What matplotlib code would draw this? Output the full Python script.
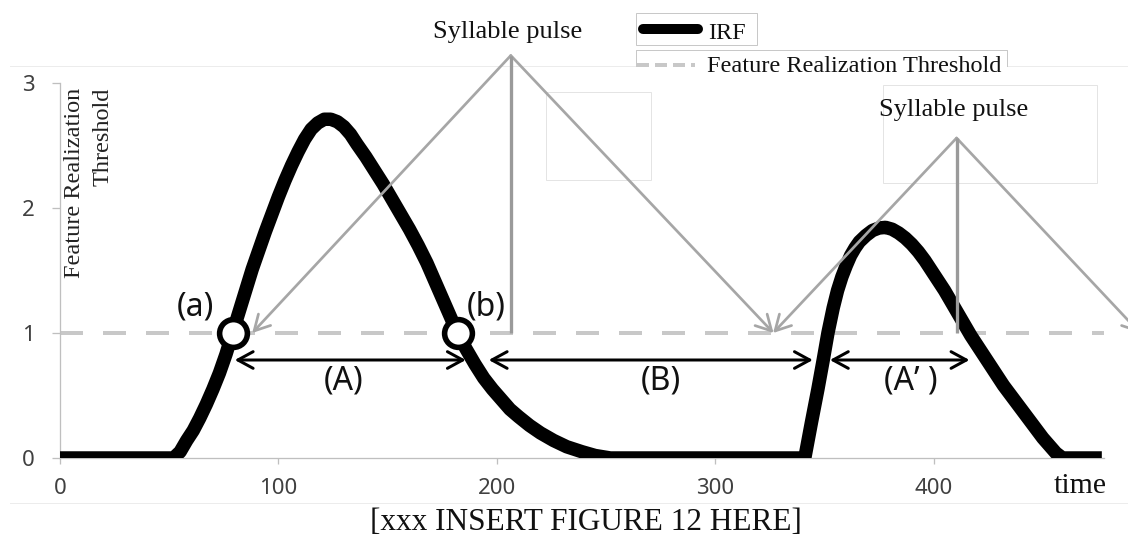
import matplotlib
matplotlib.use("Agg")
import matplotlib.pyplot as plt
from matplotlib.lines import Line2D
from matplotlib.patches import Rectangle

# ---------------- data ----------------
irf_time = [0, 52, 55, 58, 61, 64, 67, 70, 73, 76, 79, 82, 85, 88, 91, 94, 97, 100,
            103, 106, 109, 112, 115, 118, 121, 124, 127, 130, 133, 136, 140, 144,
            148, 152, 156, 160, 164, 168, 172, 176, 179, 182, 186, 190, 194, 198,
            202, 206, 210, 215, 220, 226, 232, 239, 245, 252,
            341, 344, 347, 349.5, 351.6, 354, 356, 358, 360, 362, 364, 366, 369,
            372, 375, 378, 381, 384, 387, 390, 393, 396, 399, 402, 405, 408, 411,
            414, 417, 420, 423, 426, 429, 432, 435, 438, 441, 444, 447, 450, 453,
            456, 459, 477]
irf_value = [0, 0, 0.05, 0.14, 0.22, 0.32, 0.43, 0.55, 0.68, 0.83, 1.0, 1.17, 1.34,
             1.51, 1.66, 1.81, 1.95, 2.09, 2.22, 2.34, 2.45, 2.55, 2.63, 2.68, 2.71,
             2.71, 2.69, 2.65, 2.59, 2.51, 2.41, 2.30, 2.19, 2.07, 1.95, 1.83, 1.70,
             1.56, 1.40, 1.24, 1.12, 1.0, 0.87, 0.75, 0.64, 0.55, 0.47, 0.39, 0.33,
             0.26, 0.20, 0.14, 0.09, 0.05, 0.02, 0,
             0, 0.28, 0.55, 0.79, 1.0, 1.2, 1.34, 1.45, 1.54, 1.62, 1.68, 1.73, 1.78,
             1.82, 1.84, 1.845, 1.83, 1.80, 1.76, 1.71, 1.65, 1.58, 1.50, 1.42, 1.34,
             1.25, 1.16, 1.07, 0.98, 0.90, 0.82, 0.74, 0.66, 0.58, 0.51, 0.44, 0.37,
             0.30, 0.23, 0.16, 0.10, 0.04, 0, 0]

threshold_time = [0, 478]
threshold_value = [1, 1]

crossing_time = [79, 182.3]
crossing_value = [1, 1]
crossing_labels = ["(a)", "(b)"]

pulse_peak_time = [206.4, 410.5]
pulse_peak_value = [3.22, 2.56]
pulse_left_end = [88, 326.5]
pulse_right_end = [326.7, 494.5]

interval_start = [80, 196.3, 352.5]
interval_end = [185.8, 344.7, 416.4]
interval_labels = ["(A)", "(B)", "(A\u2019 )"]
interval_label_time = [130, 275, 389.5]

x_ticks = [0, 100, 200, 300, 400]
y_ticks = [0, 1, 2, 3]

# ---------------- figure ----------------
W, H = 1128, 538
PX = 72 / 100  # points per pixel at dpi 100
plt.rcParams["font.family"] = ["Noto Sans", "DejaVu Sans"]
SERIF = ["Liberation Serif", "DejaVu Serif"]

fig = plt.figure(figsize=(W / 100, H / 100), dpi=100)
fig.patch.set_facecolor("white")
ax = fig.add_axes([60 / W, (H - 458) / H, 1044 / W, 375 / H])
ax.set_facecolor("none")


def fx(px):
    return px / W


def fy(py):
    return 1 - py / H


gray = "#a6a6a6"
axis_gray = "#bfbfbf"

# threshold line
ax.plot(threshold_time, threshold_value, color="#c8c8c8", lw=4 * PX,
        linestyle=(0, (23 / 4, 20 / 4)), dash_capstyle="butt", zorder=2)

# IRF curve
ax.plot(irf_time, irf_value, color="black", lw=13.5 * PX,
        solid_capstyle="butt", solid_joinstyle="round", zorder=3)

# syllable pulses
thr = threshold_value[0]
for i in range(len(pulse_peak_time)):
    apex = (pulse_peak_time[i], pulse_peak_value[i])
    for end in (pulse_left_end[i], pulse_right_end[i]):
        ax.annotate("", xy=(end, thr), xytext=apex,
                    arrowprops=dict(arrowstyle="->,head_length=0.55,head_width=0.3",
                                    color=gray, lw=2.7 * PX, shrinkA=0, shrinkB=0,
                                    mutation_scale=20),
                    annotation_clip=False, zorder=4)
    ax.plot([pulse_peak_time[i], pulse_peak_time[i]], [thr, pulse_peak_value[i]],
            color="#9a9a9a", lw=3.3 * PX, clip_on=False, zorder=4,
            solid_capstyle="butt")

# interval arrows
for s, e in zip(interval_start, interval_end):
    ax.annotate("", xy=(e, 0.784), xytext=(s, 0.784),
                arrowprops=dict(arrowstyle="<->,head_length=0.55,head_width=0.3",
                                color="black", lw=3 * PX, shrinkA=0, shrinkB=0,
                                mutation_scale=20),
                zorder=5)
for t, lab in zip(interval_label_time, interval_labels):
    ax.text(t, 0.62, lab, ha="center", va="center", fontsize=23, color="#111111",
            zorder=7)

# crossing circles
ax.plot(crossing_time, crossing_value, "o", ms=20, mfc="white", mec="black",
        mew=4, zorder=6, clip_on=False)
ax.text(61.8, 1.21, crossing_labels[0], ha="center", va="center", fontsize=23,
        color="#111111", zorder=7)
ax.text(195, 1.21, crossing_labels[1], ha="center", va="center", fontsize=23,
        color="#111111", zorder=7)

# axes styling
ax.set_xlim(0, 478)
ax.set_ylim(0, 3)
ax.set_xticks(x_ticks)
ax.set_yticks(y_ticks)
for side in ("top", "right"):
    ax.spines[side].set_visible(False)
for side in ("left", "bottom"):
    ax.spines[side].set_color(axis_gray)
    ax.spines[side].set_linewidth(1.3 * PX)
ax.tick_params(axis="x", length=6 * PX, width=1.3 * PX, color=axis_gray, pad=10,
               labelsize=16, labelcolor="#404040", direction="out")
ax.tick_params(axis="y", length=8 * PX, width=1.3 * PX, color=axis_gray, pad=12.5,
               labelsize=16, labelcolor="#404040", direction="out")

# faint text-box artefacts
for py in (65.5, 503):
    fig.add_artist(Line2D([fx(10), fx(1128)], [fy(py)] * 2, color="#ececec",
                          lw=1 * PX, zorder=-1))
for (x0, y0, x1, y1) in ((546, 92, 651, 180), (883, 85, 1097, 183)):
    fig.add_artist(Rectangle((fx(x0), fy(y1)), (x1 - x0) / W, (y1 - y0) / H,
                             fill=False, ec="#e4e4e4", lw=1 * PX,
                             transform=fig.transFigure, zorder=-1))

# pulse captions
fig.text(fx(508), fy(38), "Syllable pulse", ha="center", va="baseline",
         fontsize=19, family=SERIF, color="#111111")
fig.text(fx(954), fy(116), "Syllable pulse", ha="center", va="baseline",
         fontsize=19, family=SERIF, color="#111111")

# legend (two separate boxes as in the original)
fig.add_artist(Rectangle((fx(636), fy(45)), 121 / W, 32 / H, fc="white",
                         ec="#c8c8c8", lw=1 * PX, transform=fig.transFigure, zorder=5))
fig.add_artist(Line2D([fx(643), fx(698)], [fy(29)] * 2, color="black", lw=10 * PX,
                      solid_capstyle="round", zorder=6))
fig.text(fx(708), fy(39), "IRF", ha="left", va="baseline", fontsize=17.5,
         family=SERIF, color="#111111", zorder=7)
fig.add_artist(Rectangle((fx(636), fy(68)), 371 / W, 18 / H, fc="white", ec="none",
                         transform=fig.transFigure, zorder=5))
fig.add_artist(Line2D([fx(636), fx(636), fx(1007), fx(1007)],
                      [fy(66), fy(50), fy(50), fy(66)], color="#c8c8c8",
                      lw=1 * PX, zorder=6))
fig.add_artist(Line2D([fx(637), fx(695)], [fy(65)] * 2, color="#c8c8c8", lw=4 * PX,
                      linestyle=(0, (3, 1.5)), dash_capstyle="butt", zorder=6))
fig.text(fx(707), fy(72), "Feature Realization Threshold", ha="left",
         va="baseline", fontsize=17.5, family=SERIF, color="#111111", zorder=7)

# y-axis label (two lines, right-aligned at top)
fig.text(fx(75), fy(88), "Feature Realization", rotation=90, ha="center", va="top",
         fontsize=17.5, family=SERIF, color="#222222")
fig.text(fx(103), fy(88), "Threshold", rotation=90, ha="center", va="top",
         fontsize=17.5, family=SERIF, color="#222222")

# x-axis label and caption
fig.text(fx(1080), fy(493), "time", ha="center", va="baseline", fontsize=21.5,
         family=SERIF, color="#111111")
fig.text(fx(586), fy(530), "[xxx INSERT FIGURE 12 HERE]", ha="center",
         va="baseline", fontsize=22.5, family=SERIF, color="#111111")

fig.savefig("out.png", dpi=100, facecolor="white")
